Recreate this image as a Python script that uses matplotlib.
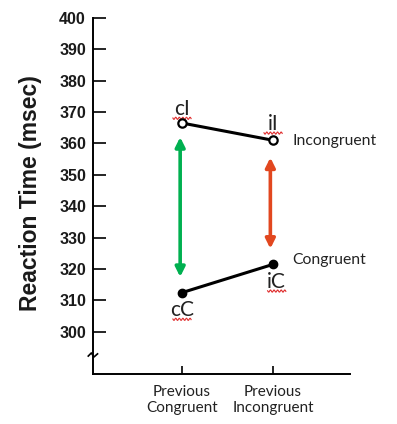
import matplotlib
matplotlib.use("Agg")
import matplotlib.pyplot as plt
import matplotlib.transforms as mtransforms
import numpy as np

# data
categories = ["Previous\nCongruent", "Previous\nIncongruent"]
incongruent = [366.5, 361.0]
congruent = [312.5, 321.5]
inc_labels = ["cI", "iI"]
con_labels = ["cC", "iC"]
green_span = [362.0, 317.5]   # arrow at previous congruent
red_span = [355.5, 326.5]     # arrow at previous incongruent
yticks = list(range(300, 401, 10))

xpos = np.arange(1, len(categories) + 1)

fig = plt.figure(figsize=(3.97, 4.24), dpi=100)
ax = fig.add_axes([0.234, 0.118, 0.648, 0.840])

ax.plot(xpos, incongruent, color="black", lw=2.2, marker="o", ms=6,
        mfc="white", mec="black", mew=1.6, zorder=3)
ax.plot(xpos, congruent, color="black", lw=2.2, marker="o", ms=6,
        mfc="black", mec="black", zorder=3)

# double-headed arrows
ax.annotate("", xy=(xpos[0] - 0.02, green_span[1]), xytext=(xpos[0] - 0.02, green_span[0]),
            arrowprops=dict(arrowstyle="<|-|>", color="#00b050", lw=2.6,
                            mutation_scale=14, shrinkA=0, shrinkB=0))
ax.annotate("", xy=(xpos[1] - 0.03, red_span[1]), xytext=(xpos[1] - 0.03, red_span[0]),
            arrowprops=dict(arrowstyle="<|-|>", color="#e2471f", lw=2.6,
                            mutation_scale=14, shrinkA=0, shrinkB=0))

# point labels with red squiggly underline
lab_font = dict(family="Lato", fontsize=15, color="#222222", ha="center", va="center")
label_pos = [(xpos[0], incongruent[0] + 4.5, inc_labels[0]),
             (xpos[1], incongruent[1] + 5.3, inc_labels[1]),
             (xpos[1] + 0.04, congruent[1] - 5.5, con_labels[1]),
             (xpos[0], congruent[0] - 5.5, con_labels[0])]
for lx, ly, txt in label_pos:
    ax.text(lx, ly, txt, **lab_font)
    wx = np.linspace(lx - 0.1, lx + 0.1, 40)
    wy = ly - 3.0 + 0.35 * np.sin((wx - lx) * 160)
    ax.plot(wx, wy, color="#e03030", lw=0.8)

side_font = dict(family="Lato", fontsize=11.3, color="#222222", ha="left", va="center")
ax.text(xpos[1] + 0.21, incongruent[1] - 0.3, "Incongruent", **side_font)
ax.text(xpos[1] + 0.21, congruent[1] + 1.5, "Congruent", **side_font)

ax.set_xlim(0.022, 2.846)
ax.set_ylim(286.6, 400)

for s in ["top", "right"]:
    ax.spines[s].set_visible(False)
ax.spines["left"].set_linewidth(1.4)
ax.spines["bottom"].set_linewidth(1.4)
ax.spines["left"].set_bounds(286.6, 400)

ax.set_yticks(yticks)
ax.set_yticklabels([str(t) for t in yticks], fontweight="bold",
                   family="Liberation Sans", fontsize=11.5, color="#1a1a1a")
ax.tick_params(axis="y", direction="in", length=9, width=1.2, pad=5)

ax.set_xticks(xpos)
ax.set_xticklabels(categories, family="Lato", fontsize=11, color="#222222",
                   linespacing=1.2)
ax.tick_params(axis="x", direction="in", length=6, width=1.2, pad=8)

# axis break mark
trans = mtransforms.blended_transform_factory(ax.transAxes, ax.transData)
bx = np.array([-0.018, -0.006, 0.004, 0.018])
by = np.array([292.3, 293.3, 292.0, 293.0])
ax.plot(bx, by, color="black", lw=1.2, transform=trans, clip_on=False)

fig.text(0.078, 0.545, "Reaction Time (msec)", rotation=90, ha="center", va="center",
         family="Liberation Sans", fontweight="bold", fontsize=16.5, color="#1a1a1a")

fig.savefig("out.png", dpi=100)
